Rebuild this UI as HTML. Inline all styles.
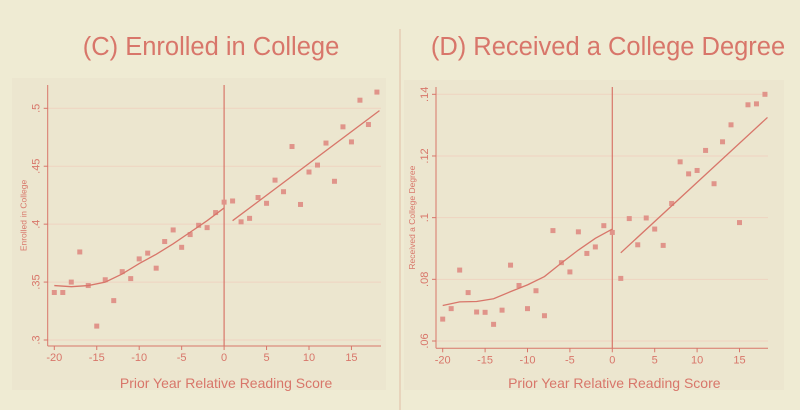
<!DOCTYPE html>
<html><head><meta charset="utf-8">
<style>
html,body{margin:0;padding:0;background:#efebd3;}
svg{display:block;font-family:"Liberation Sans",sans-serif;}
</style></head>
<body>
<svg id="c" width="800" height="410" viewBox="0 0 800 410">
<rect x="0" y="0" width="800" height="410" fill="#efebd3"/>
<line x1="400" y1="29" x2="400" y2="410" stroke="#e6cdb4" stroke-width="1.5"/>
<text x="211" y="55" text-anchor="middle" font-size="25.5" fill="#d8766a">(C) Enrolled in College</text>
<text x="608" y="55" text-anchor="middle" font-size="25.5" fill="#d8766a">(D) Received a College Degree</text>
</svg>
<script>
// Panel C data
const xsC = [-20,-19,-18,-17,-16,-15,-14,-13,-12,-11,-10,-9,-8,-7,-6,-5,-4,-3,-2,-1,0,1,2,3,4,5,6,7,8,9,10,11,12,13,14,15,16,17,18];
const ysC = [.341,.341,.350,.376,.347,.312,.352,.334,.359,.353,.370,.375,.362,.385,.395,.380,.391,.399,.397,.410,.419,.420,.402,.405,.423,.418,.438,.428,.467,.417,.445,.451,.470,.437,.484,.471,.507,.486,.514];
const fitLxC = [-20,-18,-16,-14,-12,-10,-8,-6,-4,-2,0];
const fitLyC = [.347,.346,.347,.350,.357,.366,.374,.383,.393,.403,.414];
const fitRxC = [1,18.3];
const fitRyC = [.403,.498];
const yTicksC = [.3,.35,.4,.45,.5];
const yTickLabC = [".3",".35",".4",".45",".5"];
// Panel D data
const xsD = xsC;
const ysD = [.0671,.0705,.0830,.0757,.0694,.0693,.0654,.0700,.0846,.0780,.0705,.0763,.0682,.0958,.0854,.0824,.0954,.0884,.0905,.0974,.0952,.0803,.0997,.0912,.0999,.0963,.0910,.1046,.1181,.1142,.1153,.1218,.1110,.1246,.1301,.0984,.1366,.1369,.1400];
const fitLxD = [-20,-18,-16,-14,-12,-10,-8,-6,-4,-2,0];
const fitLyD = [.0715,.0727,.0728,.0737,.0760,.0782,.0809,.0853,.0895,.0933,.0963];
const fitRxD = [1,18.3];
const fitRyD = [.0886,.1325];
const yTicksD = [.06,.08,.1,.12,.14];
const yTickLabD = [".06",".08",".1",".12",".14"];
const xTicks = [-20,-15,-10,-5,0,5,10,15];

const NS = "http://www.w3.org/2000/svg";
const svg = document.getElementById('c');
const COL = "#d8766a";
function mk(tag, attrs, parent){
  const e = document.createElementNS(NS, tag);
  for (const k in attrs) e.setAttribute(k, attrs[k]);
  (parent||svg).appendChild(e);
  return e;
}
function panel(p){
  const g = mk('g', {});
  
  
  const X = v => p.x0 + (v - (-20)) * p.xs;
  const Y = v => p.yTop + (p.yMax - v) / (p.yMax - p.yMin) * (p.yBot - p.yTop);
  const bg = mk('rect', {x:p.bx, y:p.by, width:p.bw, height:p.bh, fill:"#ece6cf"}, g);
  
  
  p.yTicks.forEach((t,i)=>{
    const gl = mk('line',{x1:p.axX, x2:p.right, y1:Y(t), y2:Y(t), stroke:"#efd3c0", "stroke-width":1}, g);
    
    
    const tk = mk('line',{x1:p.axX-4, x2:p.axX, y1:Y(t), y2:Y(t), stroke:COL, "stroke-width":1}, g);
    
    
    const tl = mk('text',{x:0,y:0,transform:`translate(${p.axX-8},${Y(t)}) rotate(-90)`,"text-anchor":"middle","font-size":11,fill:COL}, g);
    tl.textContent = p.yLab[i];
    
    
  });
  const ya = mk('line',{x1:p.axX,x2:p.axX,y1:p.top,y2:p.axY,stroke:COL,"stroke-width":1}, g);
  
  
  const xa = mk('line',{x1:p.axX,x2:p.right,y1:p.axY,y2:p.axY,stroke:COL,"stroke-width":1}, g);
  
  
  xTicks.forEach(t=>{
    const tk = mk('line',{x1:X(t),x2:X(t),y1:p.axY,y2:p.axY+4,stroke:COL,"stroke-width":1}, g);
    
    
    const tl = mk('text',{x:X(t),y:p.axY+15,"text-anchor":"middle","font-size":11,fill:COL}, g);
    tl.textContent = String(t);
    
    
  });
  const cut = mk('line',{x1:X(0),x2:X(0),y1:p.top,y2:p.axY,stroke:COL,"stroke-width":1.2}, g);
  
  
  p.xsArr.forEach((xv,i)=>{
    const r = mk('rect',{x:X(xv)-2.5,y:Y(p.ysArr[i])-2.5,width:5,height:5,fill:"#e0948a"}, g);
    
    
  });
  const lp = p.flx.map((v,i)=>`${X(v)},${Y(p.fly[i])}`).join(' ');
  const l1 = mk('polyline',{points:lp,fill:"none",stroke:COL,"stroke-width":1.3}, g);
  
  
  const rp = p.frx.map((v,i)=>`${X(v)},${Y(p.fry[i])}`).join(' ');
  const l2 = mk('polyline',{points:rp,fill:"none",stroke:COL,"stroke-width":1.3}, g);
  
  
  const yt = mk('text',{x:0,y:0,transform:`translate(${p.axX-21},${(p.top+p.axY)/2}) rotate(-90)`,"text-anchor":"middle","font-size":8.5,fill:COL}, g);
  yt.textContent = p.yTitle;
  
  
  const xt = mk('text',{x:X(0)+2,y:388,"text-anchor":"middle","font-size":14,fill:COL}, g);
  xt.textContent = "Prior Year Relative Reading Score";
  
  
}
panel({name:'panel-c', x0:54.3, xs:8.49, yTop:108.3, yBot:340, yMax:.5, yMin:.3,
  axX:47.7, axY:346, top:85, right:381, bx:12, by:78, bw:374, bh:312,
  xsArr:xsC, ysArr:ysC, flx:fitLxC, fly:fitLyC, frx:fitRxC, fry:fitRyC,
  yTicks:yTicksC, yLab:yTickLabC, yTitle:"Enrolled in College"});
panel({name:'panel-d', x0:442.7, xs:8.48, yTop:94.3, yBot:341, yMax:.14, yMin:.06,
  axX:436, axY:348.3, top:87, right:768, bx:404, by:80, bw:380, bh:310,
  xsArr:xsD, ysArr:ysD, flx:fitLxD, fly:fitLyD, frx:fitRxD, fry:fitRyD,
  yTicks:yTicksD, yLab:yTickLabD, yTitle:"Received a College Degree"});
</script>
</body></html>
